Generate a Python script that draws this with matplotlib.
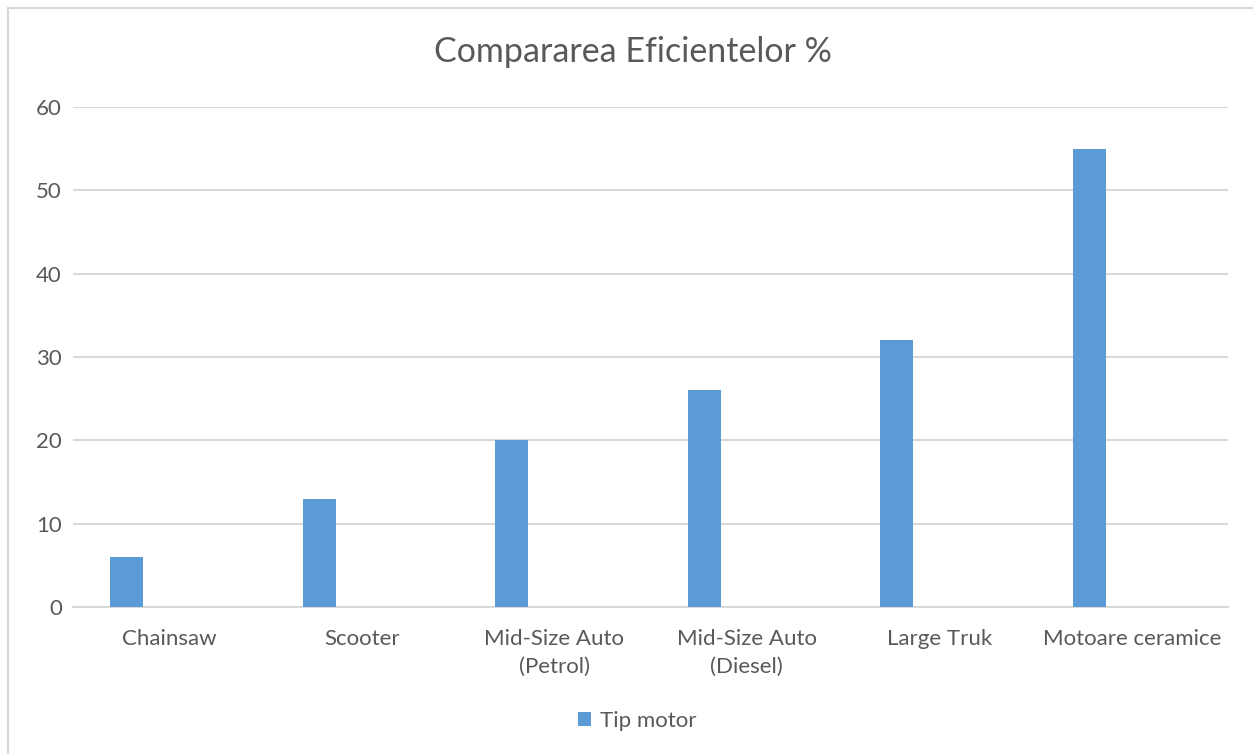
import matplotlib.pyplot as plt
from matplotlib.patches import Rectangle
import numpy as np

categories = ["Chainsaw", "Scooter", "Mid-Size Auto\n(Petrol)", "Mid-Size Auto\n(Diesel)",
              "Large Truk", "Motoare ceramice"]
values = [6, 13, 20, 26, 32, 55]
series_name = "Tip motor"
title = "Compararea Eficientelor %"

plt.rcParams['font.family'] = ['Lato', 'DejaVu Sans']
text_color = "#595959"
bar_color = "#5B9BD5"
grid_color = "#D9D9D9"

fig = plt.figure(figsize=(12.53, 7.54), dpi=100)
fig.patches.append(Rectangle((8 / 1253, -0.01), 1.02, (754 - 8) / 754 + 0.01,
                             transform=fig.transFigure, fill=False,
                             edgecolor="#D9D9D9", linewidth=1.5))

ax = fig.add_axes([73 / 1253, 147 / 754, (1228 - 73) / 1253, 500 / 754])
x = np.arange(len(categories))
ax.bar(x - 0.221, values, width=0.172, color=bar_color, label=series_name, zorder=3)

ax.set_xlim(-0.5, len(categories) - 0.5)
ax.set_ylim(0, 60)
ax.set_yticks(range(0, 61, 10))
ax.set_xticks(x)
ax.set_xticklabels(categories, linespacing=1.45)
ax.yaxis.grid(True, color=grid_color, linewidth=1.5, zorder=0)
for s in ["top", "right", "left"]:
    ax.spines[s].set_visible(False)
ax.spines["bottom"].set_color(grid_color)
ax.spines["bottom"].set_linewidth(1.5)
ax.tick_params(axis="both", length=0, labelsize=16, labelcolor=text_color)
ax.tick_params(axis="y", pad=8)
ax.tick_params(axis="x", pad=16)

fig.text(633 / 1253, 1 - 52 / 754, title, ha="center", va="center", fontsize=24.5, color=text_color)
fig.legend(loc="center", bbox_to_anchor=(637 / 1253, 1 - 721 / 754), frameon=False,
           fontsize=16, labelcolor=text_color, handlelength=0.6, handleheight=0.6,
           handletextpad=0.4)

fig.savefig("out.png", dpi=100)
